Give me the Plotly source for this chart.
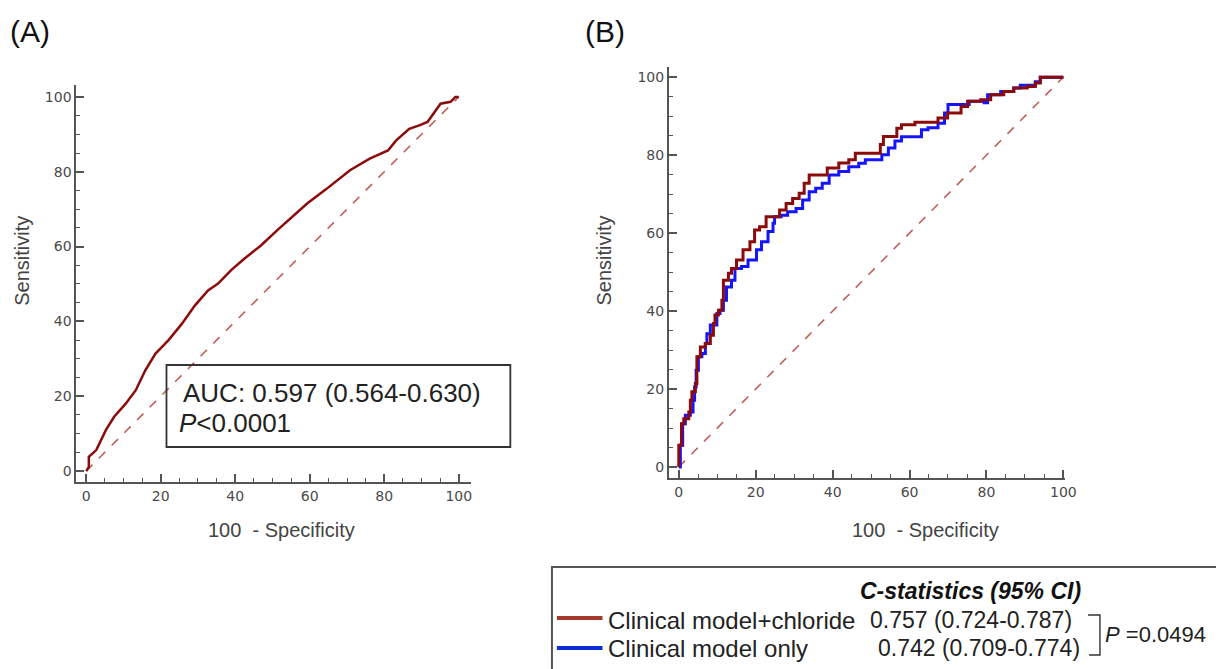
import plotly.graph_objects as go

W, H = 1216, 669

# ---------------- data ----------------
# Panel A: single ROC curve (100-Specificity, Sensitivity)
a_fpr = [0, 0.7, 0.7, 2.7, 5.3, 7.5, 10.6, 13.3, 15.9, 18.6, 22.1, 25.7, 29.2, 32.7, 35.4,
         38.9, 42.5, 46.9, 51.3, 54.9, 59.3, 64.6, 70.8, 76.1, 81.0, 83.2, 86.7, 89.4,
         91.6, 92.9, 95.1, 97.8, 99.1, 100]
a_tpr = [0, 1.0, 3.8, 5.6, 11.0, 14.5, 18.0, 21.6, 27.0, 31.4, 35.0, 39.4, 44.3, 48.3, 50.1,
         53.7, 56.8, 60.3, 64.4, 67.5, 71.5, 75.5, 80.4, 83.5, 85.7, 88.4, 91.5, 92.4,
         93.3, 95.1, 98.2, 98.7, 100, 100]

# Panel B: clinical model + chloride
b_red_fpr = [0, 0, 0.7, 0.7, 1.3, 2.6, 3.0, 3.4, 4.3, 4.7, 5.6, 6.9, 8.2, 9.0, 9.4, 10.3,
             11.2, 11.6, 12.9, 13.7, 15.0, 16.7, 18.5, 19.7, 21.0, 22.7, 25.3, 26.2, 27.9,
             29.6, 31.3, 32.6, 33.9, 38.2, 38.6, 41.6, 44.2, 45.9, 51.1, 52.4, 53.2, 55.4,
             56.7, 57.9, 61.4, 66.5, 67.4, 69.9, 73.4, 75.1, 78.5, 81.1, 84.5, 87.1, 90.6,
             92.7, 94.0, 100]
b_red_tpr = [0, 5.6, 5.6, 11.1, 12.4, 14.1, 17.1, 19.3, 21.4, 28.3, 30.8, 31.7, 33.8, 36.8,
             39.0, 40.2, 42.8, 47.9, 49.7, 50.9, 53.1, 55.7, 57.8, 60.8, 61.6, 64.2, 64.2,
             65.9, 67.6, 68.9, 70.2, 72.8, 74.9, 74.9, 76.7, 78.0, 78.8, 80.5, 80.5, 82.7,
             84.8, 84.8, 86.9, 87.8, 88.4, 88.4, 89.5, 90.8, 92.5, 93.8, 94.2, 95.5, 96.3,
             97.2, 97.6, 98.5, 100, 100]

# Panel B: clinical model only
b_blue_fpr = [0, 0.4, 1.0, 1.7, 3.0, 3.7, 4.1, 4.5, 5.1, 6.0, 6.9, 7.3, 8.2, 9.0, 9.9, 10.7,
              11.6, 12.4, 13.7, 14.6, 16.3, 18.0, 20.2, 21.5, 23.2, 24.5, 24.9, 26.6, 28.3,
              30.5, 32.2, 33.9, 35.6, 37.3, 39.1, 41.6, 44.2, 46.8, 48.5, 51.5, 52.8, 54.5,
              56.2, 57.9, 61.8, 63.1, 64.8, 67.4, 69.1, 70.0, 74.2, 75.5, 79.4, 80.3, 83.7,
              87.1, 88.8, 92.7, 94.0, 100]
b_blue_tpr = [0, 5.6, 11.1, 13.3, 14.1, 17.1, 20.5, 24.8, 28.3, 29.1, 31.7, 34.2, 36.4, 36.4,
              39.4, 40.2, 42.8, 46.2, 47.9, 50.9, 51.4, 53.1, 55.7, 57.8, 60.4, 62.5, 64.2,
              64.6, 65.5, 66.3, 68.5, 70.6, 71.5, 72.8, 74.9, 75.8, 77.0, 77.9, 78.8, 78.8,
              80.1, 81.8, 83.6, 84.7, 84.7, 86.5, 87.0, 88.2, 90.8, 93.0, 93.0, 93.8, 93.4,
              95.5, 96.3, 97.2, 97.9, 98.8, 100, 100]

ref_line = [0, 100]
tick_vals = [0, 20, 40, 60, 80, 100]
tick_text = ["0", "20", "40", "60", "80", "100"]

panel_labels = ["(A)", "(B)"]
x_title = "100\u00a0\u00a0- Specificity"
y_title = "Sensitivity"
auc_text = "AUC: 0.597 (0.564-0.630)"
p_text_a = "<i>P</i>&lt;0.0001"
leg_title = "C-statistics (95% CI)"
leg_names = ["Clinical model+chloride", "Clinical model only"]
leg_stats = ["0.757 (0.724-0.787)", "0.742 (0.709-0.774)"]
p_text_b = "<i>P</i> =0.0494"

# ---------------- styles ----------------
DARKRED = "#8B0A0A"
BLUE = "#1414FF"
DIAG = "#C0605A"
AXC = "#555555"
TXT = "#222222"
FONT = "Liberation Sans, Arial, sans-serif"


def px(x):
    return x / W


def py(y):
    return 1 - y / H


fig = go.Figure()

fig.add_trace(go.Scatter(x=ref_line, y=ref_line, mode="lines", xaxis="x", yaxis="y",
                         line=dict(color=DIAG, width=1.6, dash="dash"), showlegend=False,
                         hoverinfo="skip"))
fig.add_trace(go.Scatter(x=a_fpr, y=a_tpr, mode="lines", xaxis="x", yaxis="y",
                         line=dict(color=DARKRED, width=2.5), showlegend=False))

fig.add_trace(go.Scatter(x=ref_line, y=ref_line, mode="lines", xaxis="x2", yaxis="y2",
                         line=dict(color=DIAG, width=1.6, dash="dash"), showlegend=False,
                         hoverinfo="skip"))
fig.add_trace(go.Scatter(x=b_blue_fpr, y=b_blue_tpr, mode="lines", xaxis="x2", yaxis="y2",
                         line=dict(color=BLUE, width=3, shape="hv"), showlegend=False))
fig.add_trace(go.Scatter(x=b_red_fpr, y=b_red_tpr, mode="lines", xaxis="x2", yaxis="y2",
                         line=dict(color=DARKRED, width=3, shape="hv"), showlegend=False))


def axis(domain, rng, anchor):
    return dict(domain=domain, range=rng, anchor=anchor, showgrid=False, zeroline=False,
                showline=True, linecolor=AXC, linewidth=1.8, mirror=False,
                ticks="inside", ticklen=8, tickwidth=1.5, tickcolor=AXC,
                tickvals=tick_vals, ticktext=tick_text,
                tickfont=dict(family="DejaVu Sans, sans-serif", size=14, color="#4a4a4a"),
                minor=dict(dtick=5, tick0=0, ticks="inside", ticklen=4, tickwidth=1.3,
                           tickcolor=AXC, showgrid=False),
                fixedrange=True)


fig.update_layout(
    width=W, height=H, autosize=False, margin=dict(l=0, r=0, t=0, b=0),
    paper_bgcolor="white", plot_bgcolor="white",
    font=dict(family=FONT, color=TXT),
    xaxis=axis([px(77), px(475)], [-2.66, 103.2], "y"),
    yaxis=axis([py(482), py(85)], [-2.94, 103.2], "x"),
    xaxis2=axis([px(675), px(1075)], [-2.58, 100.5], "y2"),
    yaxis2=axis([py(478), py(67)], [-2.82, 102.6], "x2"),
)

ann = []


def add_text(text, x, y, size, xanchor="left", angle=0, color=TXT):
    ann.append(dict(text=text, x=px(x), y=py(y), xref="paper", yref="paper",
                    xanchor=xanchor, yanchor="middle", showarrow=False, textangle=angle,
                    font=dict(size=size, color=color, family=FONT)))


add_text(panel_labels[0], 8, 32, 30, color="#111111")
add_text(panel_labels[1], 588, 32, 30, color="#111111")
add_text(y_title, 22, 261, 20, xanchor="center", angle=-90, color="#444444")
add_text(x_title, 284, 530, 20, xanchor="center", color="#444444")
add_text(y_title, 610, 260, 20, xanchor="center", angle=-90, color="#444444")
add_text(x_title, 934, 530, 20, xanchor="center", color="#444444")

add_text(auc_text, 183, 393, 26)
add_text(p_text_a, 179, 423, 26)

add_text("<b><i>" + leg_title + "</i></b>", 979, 591, 23, xanchor="center", color="#111111")
add_text(leg_names[0], 612, 620, 24)
add_text(leg_names[1], 612, 648, 24)
add_text(leg_stats[0], 876, 620, 23)
add_text(leg_stats[1], 884, 648, 23)
add_text(p_text_b, 1113, 634, 22)

fig.update_layout(annotations=ann)

shapes = []
# AUC box
shapes.append(dict(type="rect", xref="paper", yref="paper", x0=px(168), x1=px(515),
                   y0=py(447), y1=py(365), line=dict(color="#333333", width=1.8)))
# legend box
shapes.append(dict(type="rect", xref="paper", yref="paper", x0=px(557), x1=px(1240),
                   y0=py(690), y1=py(567), line=dict(color="#555555", width=2)))
# legend samples
shapes.append(dict(type="line", xref="paper", yref="paper", x0=px(562), x1=px(608),
                   y0=py(618), y1=py(618), line=dict(color="#A33A2C", width=4)))
shapes.append(dict(type="line", xref="paper", yref="paper", x0=px(562), x1=px(608),
                   y0=py(648), y1=py(648), line=dict(color="#0A2FD8", width=4)))
# bracket
shapes.append(dict(type="path", xref="paper", yref="paper",
                   path=(f"M {px(1098)},{py(615)} L {px(1110)},{py(615)} "
                         f"L {px(1110)},{py(655)} L {px(1099)},{py(655)}"),
                   line=dict(color="#333333", width=1.4)))
fig.update_layout(shapes=shapes)

# remove the default page margin so the figure fills the window exactly
post = ("document.body.style.margin='0';document.body.style.overflow='hidden';"
        "Plotly.relayout('{plot_id}', {width: %d, height: %d});" % (W, H))
fig.write_html("out.html", post_script=post, config={"displayModeBar": False})
